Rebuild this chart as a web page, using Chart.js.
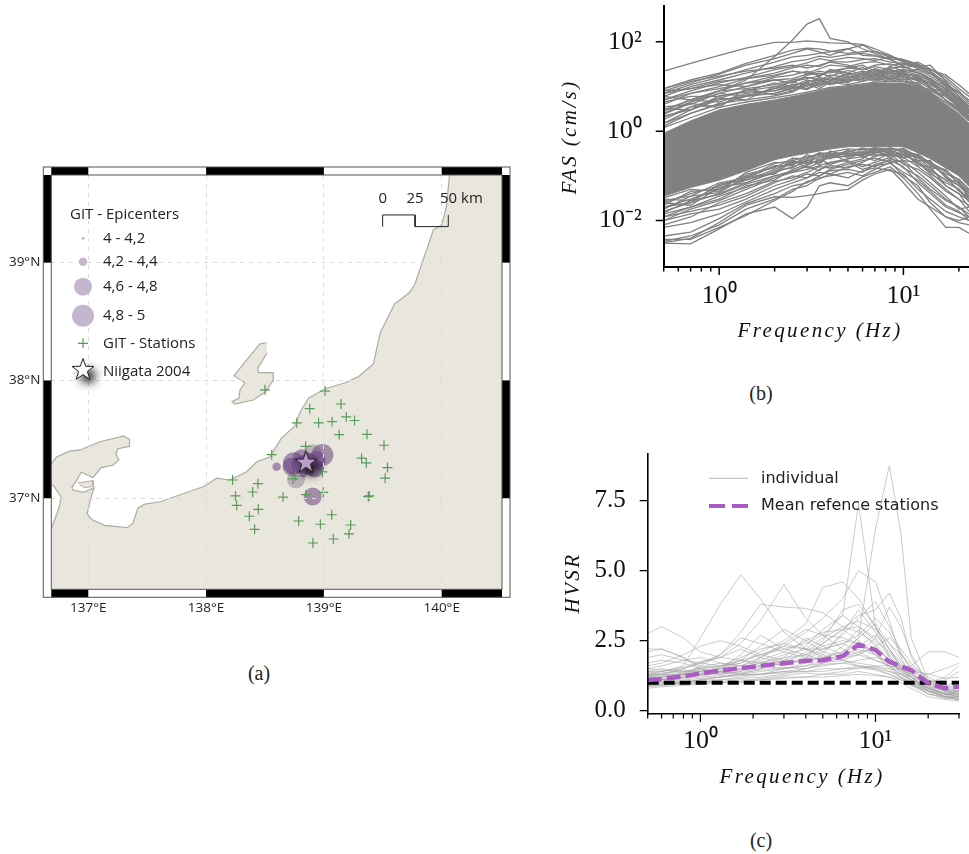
<!DOCTYPE html>
<html>
<head>
<meta charset="utf-8">
<title>Niigata 2004 GIT data</title>
<script src="https://cdn.jsdelivr.net/npm/chart.js@4"></script>
<style>
  html, body { margin: 0; background: #fff; }
  #page { position: relative; width: 969px; height: 854px; overflow: hidden; }
  canvas { position: absolute; }
  .cap { position: absolute; transform: translate(-50%, -50%); font: 20px "Liberation Serif", serif; color: #222; }
</style>
</head>
<body>
<div id="page">
  <canvas id="map" width="540" height="490" style="left:0;top:150px"></canvas>
  <canvas id="fas" width="409" height="360" style="left:560px;top:0"></canvas>
  <canvas id="hvsr" width="409" height="345" style="left:560px;top:445px"></canvas>
  <div class="cap" style="left:259px;top:673px">(a)</div>
  <div class="cap" style="left:761px;top:393px">(b)</div>
  <div class="cap" style="left:761px;top:840px">(c)</div>
</div>
<script>
// map: coastlines, degrees
const coastLon = [136.69,136.75,136.77,136.71,136.65,136.65,136.73,136.84,136.93,137.10,137.30,137.35,137.35,137.25,137.235,137.26,137.21,137.11,137.06,137.04,136.94,136.90,136.86,136.87,136.96,137.05,137.03,136.99,137.03,137.14,137.33,137.38,137.42,137.48,137.61,137.78,137.98,138.09,138.20,138.345,138.43,138.54,138.64,138.75,138.80,138.87,139.01,139.18,139.29,139.42,139.48,139.60,139.72,139.77,139.93,140.00,140.04,140.065,140.065,140.6,140.6,136.6,136.6]
const coastLat = [36.75,36.915,37.01,37.10,37.14,37.24,37.35,37.40,37.41,37.48,37.53,37.50,37.44,37.42,37.376,37.325,37.28,37.26,37.20,37.175,37.22,37.15,37.09,37.07,37.05,37.09,37.03,36.87,36.82,36.77,36.75,36.79,36.915,36.95,36.97,37.03,37.10,37.17,37.155,37.225,37.31,37.35,37.51,37.61,37.735,37.85,37.93,37.98,38.03,38.14,38.41,38.65,38.74,38.81,39.28,39.32,39.475,39.73,39.8,39.8,36.1,36.1,36.75]
const sadoLon = [138.514,138.457,138.345,138.237,138.33,138.288,138.28,138.22,138.245,138.40,138.50,138.57,138.57,138.445,138.44,138.517]
const sadoLat = [38.32,38.31,38.174,38.04,37.98,37.92,37.85,37.82,37.80,37.834,37.90,38.00,38.066,38.066,38.106,38.233]
const isletLon = [136.91,137.04,137.04,136.97,136.93]
const isletLat = [37.13,37.15,37.10,37.09,37.11]

const stationLon = [138.50,139.01,139.145,138.88,139.19,139.26,139.07,138.955,138.77,139.13,139.366,139.51,138.845,138.557,139.32,139.36,139.54,139.52,138.987,138.225,138.44,138.76,138.74,138.395,138.25,138.26,138.653,138.848,138.995,139.377,139.385,138.443,138.367,139.066,138.786,138.97,139.227,139.213,138.412,139.08,138.907]
const stationLat = [37.92,37.91,37.80,37.76,37.69,37.66,37.65,37.64,37.64,37.54,37.543,37.45,37.44,37.37,37.34,37.30,37.26,37.17,37.223,37.155,37.124,37.19,37.164,37.053,37.02,36.94,37.01,37.03,37.05,37.014,37.02,36.906,36.847,36.86,36.807,36.779,36.773,36.697,36.736,36.654,36.62]

const epiLon = [138.599,138.905,138.987,138.746,138.797,138.868,138.924,138.84,138.882,138.811,138.939,138.967,138.726,138.825]
const epiLat = [37.268,37.014,37.367,37.297,37.283,37.311,37.254,37.24,37.226,37.339,37.325,37.268,37.268,37.212]
const epiMag = [4.3,4.7,4.9,4.9,4.7,4.7,4.7,4.3,4.3,4.7,4.7,4.3,4.7,4.3]
const faintLon = [138.763,138.905]
const faintLat = [37.161,37.382]
const faintMag = [4.7,4.7]
const mainshockLon = [138.848]
const mainshockLat = [37.302]

const scaleBarLon = [139.499,139.499,139.774,139.774,140.056,140.056]
const scaleBarLat = [39.306,39.405,39.405,39.306,39.306,39.405]
const lonTicks = [137,138,139,140]
const latTicks = [37,38,39]
const legendClasses = ['4 - 4,2','4,2 - 4,4','4,6 - 4,8','4,8 - 5']
const legendMags = [4.1,4.3,4.7,4.9]

// panel b
const hzB = [0.5,0.7,1,1.4,2,2.5,3,3.5,4,5,6,7,8.5,10,12,14,17,20,22.7]
const fasCoreUpper = [0.9,1.7,3,4,5,6,7,8,9,10,11,12,12,12,10,7,4,2.5,1.5]
const fasCoreLower = [.035,.055,.08,.13,.23,.28,.32,.36,.4,.45,.45,.45,.45,.45,.33,.24,.15,.1,.058]
const fasCurves = [
  [22,33,50,72,97,97,105,100,95,92,88,70,50,36,25,19,11,7.5,5],
  [2.5,4.5,8,14,47,110,250,330,120,100,70,55,40,28,20,14,7,4,2.5],
  [9,14,20,33,50,65,72,70,62,55,60,62,48,35,28,30,13,6,3.5],
  [8,12,19,30,42,55,70,60,50,70,85,60,45,40,32,22,10,5,2.8],
  [7,11,16,24,35,46,50,55,60,70,50,48,42,38,30,22,12,7,4],
  [6,10,14,20,28,36,40,48,45,52,55,50,40,30,35,25,14,8,4.5],
  [5,8,12,16,24,28,34,42,38,45,42,38,46,40,28,20,11,6,3.5],
  [4,7,10,15,20,26,30,28,36,35,40,42,35,33,30,24,16,9,6],
  [3,5,8,12,17,22,20,25,30,28,34,36,30,32,26,24,18,11,7],
  [2.5,4.5,7,10,14,15,19,22,20,26,24,30,32,26,30,22,12,6,3],
  [2,3.5,5.5,8,10,13,15,17,22,18,22,20,26,28,22,15,9,5,2.6],
  [1.5,3,5,6,9,11,12,16,14,20,18,24,19,22,18,13,7,4,2],
  [1.3,2.5,4,6,7,9,11,13,12,15,20,16,22,16,15,12,8,5,3],
  [9,13,17,22,26,30,26,30,35,30,24,28,24,20,16,12,6,3.5,2],
  [8,9,13,15,18,22,20,18,22,26,30,22,20,18,14,10,5,3,1.8],
  [4.5,6,6,8,12,10,14,11,16,13,18,15,20,16,14,11,7,4,2.6],
  [3.5,4,7,6,9,13,10,15,12,17,14,20,15,19,13,9,6,3.4,2.2],
  [2.8,5,4.5,7,8,11,9,13,16,12,21,14,18,14,16,10,5,3,1.9],
  [2.2,3,5.5,5,10,8,12,10,14,15,13,17,14,17,11,8,6,3.6,2.4],
  [1.8,3.5,3.8,6.5,7,9.5,8.5,12,11,14,16,13,16,13,12,7,4.5,2.8,1.7],
  [1.5,2.5,4.2,5,6.2,7.5,11,9,12.5,11,13,15,13,15,10,8.5,5,3.2,2.1],
  [6,5,8,9,11,14,16,14,18,16,20,18,24,19,17,14,8.5,4.5,3],
  [5,7,9,12,14,12,18,20,17,23,19,25,21,24,20,15,9,5.5,3.6],
  [1.2,2,3.4,4.5,5.6,6.5,7.5,8.5,9.5,10.5,11.5,12.5,13,13,10.5,7.5,4.4,2.8,1.7],
  [3.2,3,6.2,7.5,8,10,9,11,13,19,16,22,17,21,15,12,6.5,3.8,2.5],
  [7,9,11,10,16,18,22,17,24,20,27,19,28,22,24,17,10,5.2,3.2],
  [2.4,4.2,3.4,9,6.5,8,13,14,11,13,15,18,15,18,18,9,7.5,4.2,2.9],
  [.0031,.003,.0065,.014,.02,.011,.02,.06,.07,.06,.095,.12,.16,.09,.04,.018,.007,.007,.0052],
  [.0032,.004,.009,.022,.034,.033,.036,.04,.045,.05,.08,.11,.14,.07,.03,.02,.012,.009,.008],
  [.0034,.0045,.008,.018,.03,.05,.06,.09,.1,.12,.1,.14,.2,.1,.06,.025,.012,.01,.012],
  [.0038,.0038,.007,.013,.028,.045,.075,.085,.11,.09,.13,.15,.13,.11,.05,.03,.016,.012,.01],
  [.0045,.0055,.011,.024,.04,.06,.07,.1,.13,.14,.12,.18,.22,.16,.07,.04,.02,.015,.012],
  [.007,.009,.014,.026,.05,.07,.09,.12,.11,.16,.18,.16,.24,.2,.09,.05,.028,.02,.014],
  [.01,.014,.018,.03,.06,.08,.11,.1,.14,.18,.22,.25,.2,.22,.12,.07,.035,.018,.02],
  [.012,.016,.022,.035,.07,.1,.09,.14,.17,.15,.2,.28,.3,.18,.14,.09,.045,.03,.022],
  [.01,.018,.028,.05,.09,.12,.14,.17,.2,.24,.27,.22,.32,.26,.16,.1,.05,.03,.016],
  [.014,.02,.03,.06,.08,.14,.18,.22,.25,.28,.3,.35,.28,.3,.2,.12,.06,.04,.028],
  [.016,.025,.04,.07,.12,.16,.2,.2,.28,.32,.28,.38,.35,.28,.22,.14,.08,.05,.03],
  [.02,.03,.05,.08,.14,.2,.22,.26,.3,.3,.35,.33,.4,.34,.25,.18,.1,.06,.04],
  [.025,.04,.06,.1,.16,.18,.25,.3,.27,.36,.32,.4,.38,.4,.28,.2,.12,.07,.045],
  [.012,.02,.035,.055,.1,.13,.16,.13,.2,.22,.16,.2,.26,.15,.1,.06,.03,.02,.012],
  [.008,.012,.025,.04,.075,.09,.12,.16,.15,.2,.14,.17,.19,.12,.08,.045,.022,.016,.01],
  [.028,.035,.07,.09,.19,.22,.27,.3,.34,.4,.38,.42,.4,.38,.27,.2,.13,.08,.048],
  [.022,.045,.05,.11,.15,.25,.24,.33,.31,.34,.42,.36,.43,.35,.3,.17,.11,.085,.05],
  [.03,.028,.06,.085,.17,.17,.3,.22,.36,.28,.3,.38,.33,.42,.22,.22,.09,.06,.036],
  [.018,.035,.042,.095,.11,.21,.19,.28,.24,.38,.26,.32,.37,.3,.26,.15,.14,.065,.042],
  [.025,.022,.055,.07,.13,.15,.23,.18,.3,.26,.4,.3,.28,.33,.19,.13,.08,.075,.03],
  [.032,.05,.045,.12,.2,.19,.21,.32,.26,.33,.29,.44,.3,.25,.31,.19,.1,.045,.034],
  [.015,.028,.038,.065,.1,.12,.17,.24,.18,.24,.34,.27,.35,.22,.2,.11,.07,.05,.026],
  [.02,.025,.065,.08,.12,.23,.15,.2,.33,.2,.24,.4,.25,.36,.17,.16,.06,.04,.02],
]
const fasXTicks = [0.5,0.6,0.7,0.8,0.9,1,2,3,4,5,6,7,8,9,10,20]
const fasYTicks = [0.01,1,100]

// panel c
const hzC = [0.5,0.6,0.8,1,1.3,1.7,2.2,3,4,5,6.5,8,10,12,14,16,20,25,30]
const hvsrMean = [1.1,1.13,1.22,1.33,1.43,1.52,1.6,1.69,1.78,1.8,1.95,2.36,2.17,1.75,1.58,1.45,0.98,0.8,0.86]
const hvsrRef = [1,1,1,1,1,1,1,1,1,1,1,1,1,1,1,1,1,1,1]
const hvsrCurves = [
  [1.2,1.25,1.3,1.4,1.45,1.5,1.6,1.7,1.8,1.9,2.1,2.6,6.5,8.75,6.3,2.6,1.1,0.7,0.6],
  [1.1,1.2,1.3,1.5,1.6,1.8,2.0,2.2,2.4,2.7,3.4,7.4,3.0,1.9,1.5,1.2,0.8,0.6,0.7],
  [1.3,1.4,1.6,2.6,3.8,4.85,4.0,2.8,2.2,1.9,1.8,1.6,1.5,1.3,1.1,0.9,0.7,0.5,0.5],
  [2.75,3.0,2.6,2.1,1.9,1.8,1.7,1.9,2.0,2.3,2.5,2.4,2.0,1.7,1.5,1.3,1.0,1.1,1.4],
  [1.4,1.4,1.5,1.7,1.9,2.4,3.2,4.5,3.3,2.7,2.6,2.4,2.1,1.6,1.2,0.9,0.6,0.5,0.4],
  [1.2,1.3,1.5,1.7,2.0,2.8,3.8,3.7,3.65,3.5,3.0,2.8,2.4,1.8,1.4,1.2,0.8,0.6,0.6],
  [2.1,2.2,1.9,1.6,1.5,1.7,2.1,2.5,3.1,4.4,4.6,4.0,3.0,2.2,1.6,1.2,0.7,0.5,0.4],
  [1.0,1.1,1.2,1.3,1.4,1.6,1.9,2.3,2.8,3.3,4.0,5.0,4.6,3.2,1.9,1.2,0.7,0.5,0.5],
  [0.9,0.9,1.0,1.1,1.2,1.3,1.5,1.8,2.0,2.4,2.9,3.4,3.6,4.2,3.3,1.9,1.0,0.7,0.6],
  [1.3,1.35,1.4,1.5,1.6,1.9,2.2,2.4,2.2,2.6,3.0,3.2,2.9,2.4,2.0,1.6,1.2,0.9,0.8],
  [1.5,1.6,1.8,1.9,1.7,1.6,1.8,2.1,2.5,2.8,2.9,3.0,2.6,1.9,1.5,1.1,0.7,0.6,0.6],
  [2.2,2.2,1.9,1.5,1.3,1.4,1.9,2.4,2.9,2.7,2.2,2.0,2.6,3.7,3.0,2.0,1.0,0.7,0.6],
  [1.1,1.1,1.2,1.3,1.4,1.5,1.6,1.8,2.3,2.9,3.4,3.0,2.5,2.1,1.6,1.4,1.1,0.9,1.0],
  [0.9,0.95,1.0,1.1,1.1,1.2,1.3,1.4,1.5,1.6,1.7,1.8,1.9,1.8,1.6,1.3,0.9,0.7,0.7],
  [1.0,1.0,1.05,1.1,1.2,1.3,1.3,1.4,1.4,1.5,1.5,1.5,1.6,1.6,1.5,1.6,2.1,2.1,1.9],
  [0.8,0.85,0.9,0.95,1.0,1.0,1.1,1.2,1.2,1.3,1.3,1.4,1.3,1.2,1.0,0.8,0.5,0.4,0.35],
  [1.7,1.8,1.7,1.5,1.4,1.3,1.3,1.5,1.6,1.8,2.0,2.2,2.0,1.6,1.3,1.0,0.6,0.45,0.4],
  [1.4,1.5,1.4,1.4,1.5,2.0,2.7,2.2,2.0,1.8,2.3,2.9,2.3,1.8,1.4,1.1,0.8,0.6,0.5],
  [1.2,1.2,1.3,1.3,1.5,1.8,1.6,1.5,1.7,2.0,2.8,3.6,2.8,2.0,1.5,1.2,0.8,0.65,0.7],
  [1.0,1.05,1.1,1.15,1.2,1.25,1.3,1.35,1.4,1.4,1.5,1.6,1.5,1.4,1.3,1.2,1.0,1.2,1.6],
  [0.95,1.0,1.0,1.05,1.05,1.1,1.1,1.15,1.2,1.2,1.25,1.3,1.25,1.2,1.1,0.95,0.7,0.55,0.5],
  [1.6,1.7,2.0,2.3,2.5,2.3,2.0,1.8,1.7,1.9,2.1,2.3,2.7,2.2,1.5,1.2,0.8,0.6,0.55],
  [1.3,1.3,1.3,1.6,2.0,2.6,2.4,2.1,1.9,2.4,2.9,2.5,2.0,1.5,1.2,0.95,0.6,0.45,0.45],
  [1.1,1.15,1.2,1.25,1.3,1.4,1.5,1.7,2.1,2.5,3.6,3.8,3.0,2.2,1.7,1.3,0.9,0.75,0.8],
  [1.25,1.3,1.3,1.35,1.4,1.5,1.7,2.0,2.2,2.2,2.4,2.7,3.3,2.8,2.0,1.5,1.0,0.8,0.9],
  [0.9,0.95,1.0,1.0,1.1,1.15,1.2,1.3,1.5,1.7,1.9,2.0,1.8,1.6,1.5,1.45,1.3,1.5,1.7],
  [1.9,2.0,1.8,1.7,1.6,1.7,2.0,2.3,2.2,2.0,1.8,1.7,1.6,1.4,1.2,1.0,0.7,0.5,0.45],
  [1.05,1.1,1.15,1.2,1.25,1.3,1.4,1.5,1.6,1.7,1.8,2.0,2.3,2.6,2.2,1.7,1.1,0.8,0.7],
  [1.35,1.4,1.55,1.75,1.9,2.2,1.9,1.7,1.9,2.2,2.4,2.1,1.8,1.6,1.3,1.1,0.75,0.6,0.65],
  [1.15,1.2,1.35,1.55,1.7,1.6,1.55,1.9,2.6,2.3,2.0,2.6,3.1,2.4,1.8,1.3,0.85,0.7,0.75],
  [1.0,1.1,1.25,1.45,1.35,1.45,1.75,1.6,1.85,2.1,2.7,3.3,3.9,3.0,2.1,1.4,0.85,0.6,0.5],
  [1.5,1.45,1.35,1.3,1.35,1.35,1.45,1.55,1.5,1.65,1.7,1.6,1.55,1.5,1.45,1.4,1.3,1.15,1.2],
  [1.25,1.3,1.45,1.4,1.55,1.8,2.3,2.9,2.5,2.1,1.9,2.1,2.2,1.8,1.35,1.05,0.7,0.5,0.4],
  [0.85,0.9,0.95,1.0,1.0,1.05,1.15,1.25,1.35,1.3,1.4,1.55,1.45,1.3,1.15,1.0,0.8,0.6,0.55],
]
const hvsrXTicks = [0.5,0.6,0.7,0.8,0.9,1,2,3,4,5,6,7,8,9,10,20,30]
const hvsrYTicks = [0,2.5,5,7.5]

const LAND = '#e9e7dd'
const COAST = '#aeaca0'
const EPI = 'rgba(106,66,128,0.55)'
const SANS = '"Open Sans", sans-serif'
const SERIF = '"Liberation Serif", serif'

const pts = (xs, ys) => xs.map((x, i) => ({x, y: ys[i]}))
const epiRadius = m => m >= 4.8 ? 11 : m >= 4.6 ? 9 : m >= 4.2 ? 4.2 : 1.5
const powerLabel = {'0.01': '10⁻²', '1': '10⁰', '10': '10¹', '100': '10²'}

// keeps the plot area where the reference has it
function fixX(height) {
  return s => { s.height = height; s.paddingLeft = 0; s.paddingRight = 0 }
}
function fixY(width) {
  return s => { s.width = width; s.paddingTop = 0; s.paddingBottom = 0 }
}
function setTicks(values) {
  return s => { s.ticks = values.map(value => ({value})) }
}

function makeStar(fill) {
  const c = document.createElement('canvas')
  c.width = 44
  c.height = 44
  const g = c.getContext('2d')
  g.shadowColor = 'rgba(0,0,0,0.95)'
  g.shadowBlur = 8
  g.shadowOffsetX = 5
  g.shadowOffsetY = 6
  g.beginPath()
  for (let i = 0; i < 10; i++) {
    const r = i % 2 ? 4.6 : 11.5
    const a = -Math.PI / 2 + i * Math.PI / 5
    g.lineTo(22 + r * Math.cos(a), 22 + r * Math.sin(a))
  }
  g.closePath()
  g.fillStyle = fill
  g.fill()
  g.shadowColor = 'transparent'
  g.strokeStyle = '#222'
  g.lineWidth = 1
  g.stroke()
  return c
}
const legendStar = makeStar('#fff')
const mapStar = makeStar('#b8a0c8')

// draws in page coordinates on a canvas placed at left/top
function overlay(left, top, draw) {
  return {
    id: 'overlay',
    afterDraw(chart) {
      const ctx = chart.ctx
      ctx.save()
      ctx.translate(-left, -top)
      draw(ctx, chart, left, top)
      ctx.restore()
    }
  }
}

function mathText(ctx, text, x, y, spacing, rotate) {
  ctx.save()
  ctx.translate(x, y)
  if (rotate) ctx.rotate(-Math.PI / 2)
  ctx.font = `italic 21px ${SERIF}`
  ctx.letterSpacing = spacing + 'px'
  ctx.fillStyle = '#111'
  ctx.textAlign = 'center'
  ctx.textBaseline = 'middle'
  ctx.fillText(text, 0, 0)
  ctx.restore()
}

function tickMarks(ctx, chart, left, top, width, xMajor) {
  const xs = chart.scales.x
  const ys = chart.scales.y
  ctx.strokeStyle = '#000'
  ctx.lineWidth = width
  ctx.beginPath()
  xs.ticks.forEach(t => {
    const p = xs.getPixelForValue(t.value) + left
    ctx.moveTo(p, chart.chartArea.bottom + top)
    ctx.lineTo(p, chart.chartArea.bottom + top + (xMajor.includes(t.value) ? 8 : 4.5))
  })
  ys.ticks.forEach(t => {
    const p = ys.getPixelForValue(t.value) + top
    ctx.moveTo(chart.chartArea.left + left, p)
    ctx.lineTo(chart.chartArea.left + left - 8, p)
  })
  ctx.stroke()
}

function mapFrame(ctx, chart, left, top) {
  const {left: l, right: r, top: t, bottom: b} = chart.chartArea
  const xs = chart.scales.x
  const ys = chart.scales.y
  const band = 8
  const xb = [l, ...lonTicks.map(v => xs.getPixelForValue(v)), r]
  const yb = [t, ...latTicks.slice().reverse().map(v => ys.getPixelForValue(v)), b]
  ctx.save()
  ctx.translate(left, top)
  ctx.fillStyle = '#fff'
  ctx.fillRect(l - band, t - band, r - l + band * 2, band)
  ctx.fillRect(l - band, b, r - l + band * 2, band)
  ctx.fillRect(l - band, t, band, b - t)
  ctx.fillRect(r, t, band, b - t)
  ctx.fillStyle = '#000'
  for (let i = 0; i < xb.length - 1; i += 2) {
    ctx.fillRect(xb[i], t - band, xb[i + 1] - xb[i], band)
    ctx.fillRect(xb[i], b, xb[i + 1] - xb[i], band)
  }
  for (let i = 0; i < yb.length - 1; i += 2) {
    ctx.fillRect(l - band, yb[i], band, yb[i + 1] - yb[i])
    ctx.fillRect(r, yb[i], band, yb[i + 1] - yb[i])
  }
  ctx.strokeStyle = '#555'
  ctx.lineWidth = 1
  ctx.strokeRect(l - band, t - band, r - l + band * 2, b - t + band * 2)
  ctx.strokeRect(l, t, r - l, b - t)
  ctx.restore()
}

function mapLegend(ctx, chart, left, top) {
  const xs = chart.scales.x
  ctx.textBaseline = 'middle'
  ctx.textAlign = 'left'
  ctx.fillStyle = '#222'
  ctx.font = `15px ${SANS}`
  ctx.fillText('GIT - Epicenters', 70, 215)
  const rows = [238.3, 261.7, 286.7, 315.7]
  legendClasses.forEach((label, i) => {
    ctx.fillStyle = '#c5b6cf'
    ctx.beginPath()
    ctx.arc(83, rows[i], epiRadius(legendMags[i]), 0, Math.PI * 2)
    ctx.fill()
    ctx.fillStyle = '#222'
    ctx.fillText(label, 103, rows[i])
  })
  ctx.strokeStyle = '#5a9a5a'
  ctx.lineWidth = 1.2
  ctx.beginPath()
  ctx.moveTo(78, 343.3)
  ctx.lineTo(88, 343.3)
  ctx.moveTo(83, 338.3)
  ctx.lineTo(83, 348.3)
  ctx.stroke()
  ctx.fillText('GIT - Stations', 103, 343.3)
  ctx.drawImage(legendStar, 83 - 22, 370 - 22)
  ctx.fillText('Niigata 2004', 103, 371.7)
  // scale bar labels sit on the bar's own lon values
  const y = 199
  ctx.textAlign = 'center'
  ctx.fillText('0', xs.getPixelForValue(scaleBarLon[0]) + left, y)
  ctx.fillText('25', xs.getPixelForValue(scaleBarLon[2]) + left, y)
  ctx.textAlign = 'left'
  ctx.fillText('50 km', 440, y)
}

new Chart(document.getElementById('map'), {
  type: 'scatter',
  data: {
    datasets: [
      {data: pts(mainshockLon, mainshockLat), pointStyle: mapStar, pointRadius: 11},
      {data: pts(stationLon, stationLat), pointStyle: 'cross', pointRadius: 5, pointBorderColor: '#5a9a5a', pointBorderWidth: 1.2},
      {data: pts(epiLon, epiLat), pointRadius: epiMag.map(epiRadius), pointBackgroundColor: EPI, pointBorderWidth: 0},
      {data: pts(faintLon, faintLat), pointRadius: faintMag.map(epiRadius), pointBackgroundColor: 'rgba(120,100,130,0.4)', pointBorderWidth: 0},
      {data: pts(scaleBarLon, scaleBarLat), showLine: true, pointRadius: 0, borderColor: '#222', borderWidth: 1},
      {data: pts(isletLon, isletLat), showLine: true, pointRadius: 0, borderColor: COAST, borderWidth: 1, fill: 'shape', backgroundColor: LAND},
      {data: pts(sadoLon, sadoLat), showLine: true, pointRadius: 0, borderColor: COAST, borderWidth: 1.2, fill: 'shape', backgroundColor: LAND},
      {data: pts(coastLon, coastLat), showLine: true, pointRadius: 0, borderColor: COAST, borderWidth: 1.2, fill: 'shape', backgroundColor: LAND},
    ]
  },
  options: {
    responsive: false,
    animation: false,
    events: [],
    layout: {padding: {top: 25, right: 38}},
    plugins: {legend: {display: false}, tooltip: {enabled: false}},
    scales: {
      x: {
        type: 'linear', min: 136.686, max: 140.512,
        afterFit: fixX(50.7),
        afterBuildTicks: setTicks(lonTicks),
        grid: {color: '#dcdbd4', z: 1, drawTicks: false},
        border: {display: false, dash: [4, 5]},
        ticks: {font: {family: SANS, size: 13.5}, color: '#222', padding: 11, maxRotation: 0, autoSkip: false, callback: v => v + '°E'}
      },
      y: {
        type: 'linear', min: 36.227, max: 39.744,
        afterFit: fixY(51.3),
        afterBuildTicks: setTicks(latTicks),
        grid: {color: '#dcdbd4', z: 1, drawTicks: false},
        border: {display: false, dash: [4, 5]},
        ticks: {font: {family: SANS, size: 13.5}, color: '#222', padding: 11, autoSkip: false, callback: v => v + '°N'}
      }
    }
  },
  plugins: [overlay(0, 150, (ctx, chart, left, top) => {
    mapFrame(ctx, chart, left, top)
    mapLegend(ctx, chart, left, top)
  })]
})

const fasLines = fasCurves.map(values => ({data: values, borderColor: '#808080', borderWidth: 1.3, pointRadius: 0, fill: false}))
new Chart(document.getElementById('fas'), {
  type: 'line',
  data: {
    labels: hzB,
    datasets: [
      ...fasLines,
      {data: fasCoreUpper, borderColor: '#808080', borderWidth: 1, pointRadius: 0, fill: '+1', backgroundColor: '#808080'},
      {data: fasCoreLower, borderColor: '#808080', borderWidth: 1, pointRadius: 0, fill: false},
    ]
  },
  options: {
    responsive: false,
    animation: false,
    events: [],
    layout: {padding: {top: 5.7}},
    plugins: {legend: {display: false}, tooltip: {enabled: false}},
    scales: {
      x: {
        type: 'logarithmic', min: 0.5, max: 22.7,
        afterFit: fixX(93),
        afterBuildTicks: setTicks(fasXTicks),
        grid: {display: false, tickLength: 8},
        border: {color: '#000', width: 2, z: 1},
        ticks: {font: {family: SERIF, size: 26}, color: '#111', padding: 6, maxRotation: 0, autoSkip: false, callback: v => powerLabel[v] || ''}
      },
      y: {
        type: 'logarithmic', min: 0.00091, max: 645,
        afterFit: fixY(103.7),
        afterBuildTicks: setTicks(fasYTicks),
        grid: {display: false, tickLength: 8},
        border: {color: '#000', width: 2, z: 1},
        ticks: {font: {family: SERIF, size: 26}, color: '#111', padding: 14, autoSkip: false, callback: v => powerLabel[v] || ''}
      }
    }
  },
  plugins: [overlay(560, 0, (ctx, chart, left, top) => {
    tickMarks(ctx, chart, left, top, 1.5, [1, 10])
    mathText(ctx, 'Frequency (Hz)', 820, 331, 2.4, false)
    mathText(ctx, 'FAS (cm/s)', 570, 137, 2.4, true)
  })]
})

const hvsrLines = hvsrCurves.map(values => ({data: values, borderColor: 'rgba(165,165,165,0.85)', borderWidth: 0.7, pointRadius: 0, fill: false}))
new Chart(document.getElementById('hvsr'), {
  type: 'line',
  data: {
    labels: hzC,
    datasets: [
      {data: hvsrMean, borderColor: '#ab5cc4', borderWidth: 4.5, borderDash: [14, 5], pointRadius: 0, fill: false},
      {data: hvsrRef, borderColor: '#000', borderWidth: 4, borderDash: [11, 5], pointRadius: 0, fill: false},
      ...hvsrLines,
    ]
  },
  options: {
    responsive: false,
    animation: false,
    events: [],
    layout: {padding: {top: 8.3, right: 10}},
    plugins: {legend: {display: false}, tooltip: {enabled: false}},
    scales: {
      x: {
        type: 'logarithmic', min: 0.5, max: 30,
        afterFit: fixX(76),
        afterBuildTicks: setTicks(hvsrXTicks),
        grid: {display: false, tickLength: 8},
        border: {color: '#000', width: 1.6, z: 1},
        ticks: {font: {family: SERIF, size: 26}, color: '#111', padding: 4, maxRotation: 0, autoSkip: false, callback: v => powerLabel[v] || ''}
      },
      y: {
        type: 'linear', min: -0.118, max: 9.19,
        afterFit: fixY(87.7),
        afterBuildTicks: setTicks(hvsrYTicks),
        grid: {display: false, tickLength: 8},
        border: {color: '#000', width: 1.6, z: 1},
        ticks: {font: {family: SERIF, size: 25}, color: '#111', padding: 14, autoSkip: false, callback: v => v.toFixed(1)}
      }
    }
  },
  plugins: [overlay(560, 445, (ctx, chart, left, top) => {
    tickMarks(ctx, chart, left, top, 1.2, [1, 10])
    mathText(ctx, 'Frequency (Hz)', 802, 777, 2.4, false)
    mathText(ctx, 'HVSR', 573, 583, 2.4, true)
    ctx.font = '16px "DejaVu Sans", sans-serif'
    ctx.fillStyle = '#222'
    ctx.textAlign = 'left'
    ctx.textBaseline = 'middle'
    ctx.fillText('individual', 761, 479)
    ctx.fillText('Mean refence stations', 761, 506)
    ctx.strokeStyle = '#a5a5a5'
    ctx.lineWidth = 0.8
    ctx.beginPath()
    ctx.moveTo(709, 478.3)
    ctx.lineTo(748, 478.3)
    ctx.stroke()
    ctx.strokeStyle = '#ab5cc4'
    ctx.lineWidth = 4
    ctx.setLineDash([16, 7])
    ctx.beginPath()
    ctx.moveTo(709, 506)
    ctx.lineTo(748, 506)
    ctx.stroke()
  })]
})
</script>
</body>
</html>
